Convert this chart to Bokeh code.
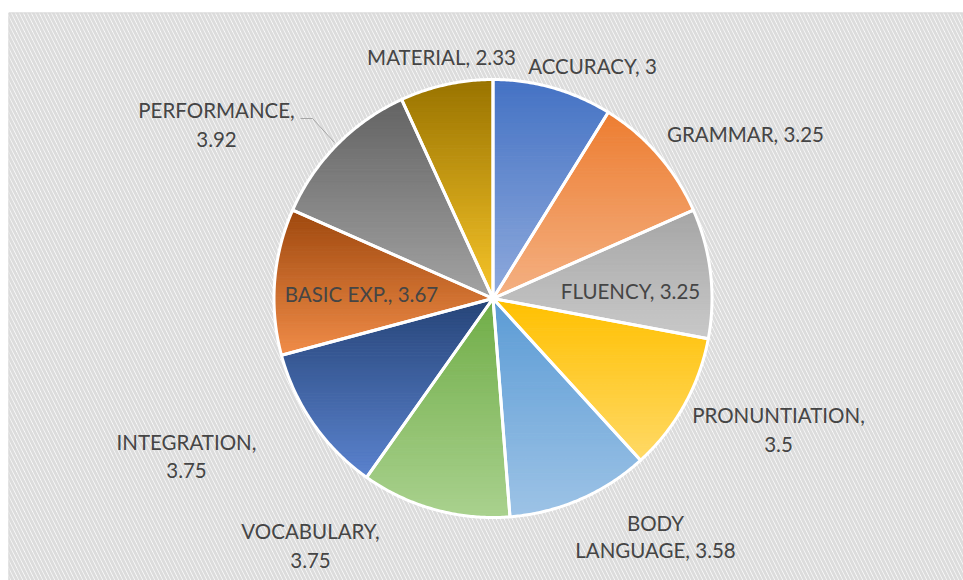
import numpy as np
from bokeh.plotting import figure
from bokeh.models import Range1d, ColumnDataSource
from bokeh.core.properties import value
from bokeh.embed import file_html
from bokeh.resources import INLINE

# ---- data ----
categories = ["ACCURACY", "GRAMMAR", "FLUENCY", "PRONUNTIATION", "BODY LANGUAGE",
              "VOCABULARY", "INTEGRATION", "BASIC EXP.", "PERFORMANCE", "MATERIAL"]
values = [3, 3.25, 3.25, 3.5, 3.58, 3.75, 3.75, 3.67, 3.92, 2.33]

# ---- style (gradient top -> bottom per slice) ----
top_colors = ["#4472C4", "#ED7D31", "#A5A5A5", "#FFC000", "#5B9BD5",
              "#70AD47", "#264478", "#9E480E", "#636363", "#997300"]
bottom_colors = ["#8FAADC", "#F4B183", "#C9C9C9", "#FFD966", "#9DC3E6",
                 "#A9D18E", "#5B83CE", "#F08C48", "#A3A3A3", "#F7C52A"]

# label layout: (center x, baseline y of first line, line break mode, line gap)
label_pos = [(592, 65, None, 0), (745, 133, None, 0), (630, 290, None, 0),
             (778, 414, "comma", 30), (655, 522, "first", 27), (310, 530, "comma", 30),
             (186, 441, "comma", 29), (361, 293, None, 0), (216, 109, "comma", 30),
             (441, 56, None, 0)]

W, H = 963, 580
cx, cy, R = 492.5, 298.0, 219.0

p = figure(width=W, height=H, output_backend="svg", toolbar_location=None,
           x_range=Range1d(0, W), y_range=Range1d(H, 0),
           x_axis_type=None, y_axis_type=None, min_border=0)
p.grid.visible = False
p.outline_line_color = None
p.background_fill_color = "white"
p.border_fill_color = "white"

# chart area with hatch
p.quad(left=8, right=W, top=12, bottom=H, fill_color="white", line_color=None,
       hatch_pattern="\\", hatch_color="#DCDCDC", hatch_scale=8, hatch_weight=3)
p.line([8.5, 8.5], [H, 12.5], line_color="#D9D9D9", line_width=1)
p.line([8.5, W], [12.5, 12.5], line_color="#D9D9D9", line_width=1)


def hex2rgb(h):
    h = h.lstrip("#")
    return np.array([int(h[i:i + 2], 16) for i in (0, 2, 4)], dtype=float)


def rgb2hex(c):
    c = np.clip(np.round(c), 0, 255).astype(int)
    return "#%02x%02x%02x" % tuple(c)


def clip_edge(pts, keep, inter):
    out = []
    n = len(pts)
    for i in range(n):
        cur, prev = pts[i], pts[i - 1]
        if keep(cur):
            if not keep(prev):
                out.append(inter(prev, cur))
            out.append(cur)
        elif keep(prev):
            out.append(inter(prev, cur))
    return out


def ix(a, b, y):
    t = (y - a[1]) / (b[1] - a[1])
    return (a[0] + t * (b[0] - a[0]), y)


def clip_band(poly, y0, y1):
    pts = clip_edge(poly, lambda q: q[1] >= y0, lambda a, b: ix(a, b, y0))
    if pts:
        pts = clip_edge(pts, lambda q: q[1] <= y1, lambda a, b: ix(a, b, y1))
    return pts


total = float(sum(values))
angles = np.cumsum([0.0] + [v / total * 2 * np.pi for v in values])

band_xs, band_ys, band_c = [], [], []
out_xs, out_ys = [], []
for i, v in enumerate(values):
    a0, a1 = angles[i], angles[i + 1]
    n = max(4, int(np.degrees(a1 - a0) * 2))
    th = np.linspace(a0, a1, n)
    poly = [(cx, cy)] + [(cx + R * np.sin(t), cy - R * np.cos(t)) for t in th]
    out_xs.append([q[0] for q in poly])
    out_ys.append([q[1] for q in poly])
    ys = [q[1] for q in poly]
    ymin, ymax = min(ys), max(ys)
    c0, c1 = hex2rgb(top_colors[i]), hex2rgb(bottom_colors[i])
    nb = 60
    edges = np.linspace(ymin, ymax, nb + 1)
    for b in range(nb):
        seg = clip_band(poly, edges[b], edges[b + 1])
        if len(seg) < 3:
            continue
        t = (b + 0.5) / nb
        band_xs.append([q[0] for q in seg])
        band_ys.append([q[1] for q in seg])
        band_c.append(rgb2hex(c0 + (c1 - c0) * t))

p.patches(xs="xs", ys="ys", fill_color="c", line_color="c", line_width=1,
          source=ColumnDataSource(dict(xs=band_xs, ys=band_ys, c=band_c)))
p.patches(xs=out_xs, ys=out_ys, fill_color=None, line_color="white", line_width=3,
          line_join="round")

# leader line for PERFORMANCE
p.line([300, 312, 334], [118, 118, 142], line_color="#A6A6A6", line_width=1)

# labels
tx, ty, tt = [], [], []
for cat, v, (lx, ly, mode, gap) in zip(categories, values, label_pos):
    full = f"{cat}, {v:g}"
    if mode == "comma":
        lines = [f"{cat},", f"{v:g}"]
    elif mode == "first":
        first, rest = cat.split(" ", 1)
        lines = [first, f"{rest}, {v:g}"]
    else:
        lines = [full]
    for k, ln in enumerate(lines):
        tx.append(lx)
        ty.append(ly + k * gap)
        tt.append(ln)

p.text(x=tx, y=ty, text=tt, text_font=value("Lato"), text_font_size="20.5px",
       text_color="#454545", text_align="center", text_baseline="alphabetic")

open("out.html", "w").write(file_html(p, INLINE))
